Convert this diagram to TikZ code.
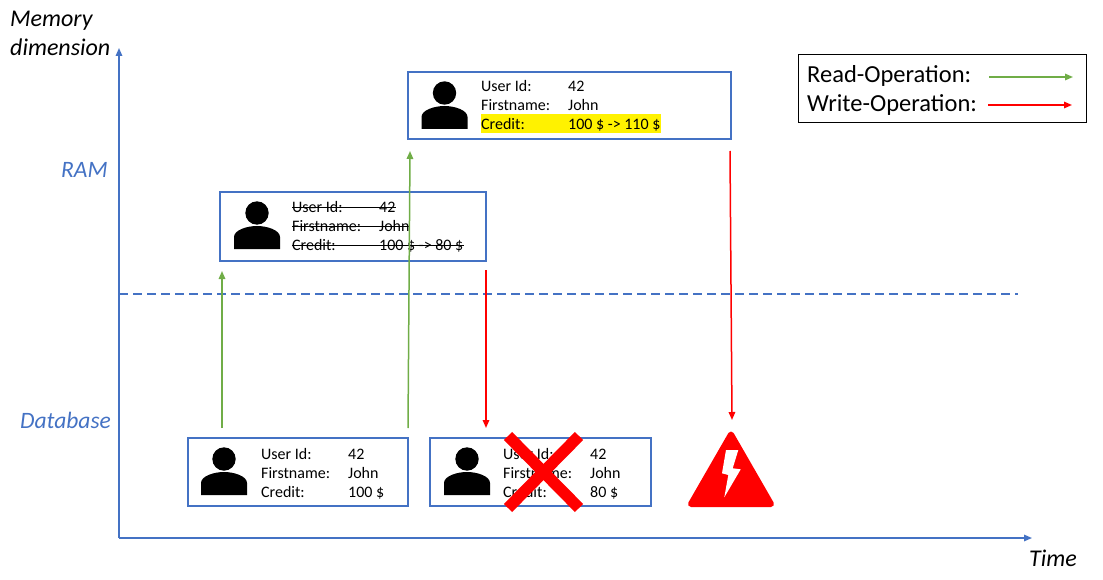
\documentclass[tikz,border=0pt]{standalone}
\usepackage{fontspec}
\setmainfont{Carlito}
\usetikzlibrary{arrows.meta}
\definecolor{axisblue}{HTML}{4472C4}
\definecolor{readgreen}{HTML}{70AD47}
\definecolor{writered}{HTML}{FF0000}
\tikzset{
    record/.style = {draw = axisblue, line width = 1.5pt, anchor = north west, inner sep = 0pt, outer sep = 0pt},
    field/.style = {anchor = base west, inner sep = 0pt, font = \fontsize{16}{16}\selectfont},
    axislabel/.style = {anchor = base west, inner sep = 0pt, text = axisblue, font = \fontsize{23.5}{24}\selectfont\itshape},
    blacklabel/.style = {anchor = base west, inner sep = 0pt, font = \fontsize{24}{24}\selectfont\itshape},
    legendtext/.style = {anchor = base west, inner sep = 0pt, font = \fontsize{24.5}{25}\selectfont},
    readop/.style = {-{Triangle[length = 8pt, width = 6.5pt]}, readgreen, line width = 1.5pt},
    writeop/.style = {-{Triangle[length = 8pt, width = 6.5pt]}, writered, line width = 1.5pt},
    person/.pic = {
        \fill (0,0) circle (11.7);
        \fill (-23,36) -- (-23,24) .. controls (-23,17) and (-10,13) .. (0,13) .. controls (10,13) and (23,17) .. (23,24) -- (23,36) -- cycle;
    }
}
\begin{document}
\begin{tikzpicture}[x = 1pt, y = -1pt]
    \useasboundingbox (0,0) rectangle (1103,580);

    % axes
    \coordinate (origin) at (119,538);
    \coordinate (memorytop) at (119,48);
    \coordinate (timeend) at (1032,538);
    \coordinate (dashstart) at (119,294);
    \coordinate (dashend) at (1018,294);
    \draw[-{Triangle[length = 8pt, width = 6.5pt]}, axisblue, line width = 1.5pt] (origin) -- (memorytop);
    \draw[-{Triangle[length = 8pt, width = 6.5pt]}, axisblue, line width = 1.5pt] (origin) -- (timeend);
    \draw[dashed, dash pattern = on 9pt off 5pt, axisblue, line width = 1.5pt] (dashstart) -- (dashend);

    \node[blacklabel] (memorylabel) at (10,27) {Memory};
    \node[blacklabel] (dimensionlabel) at (10,56) {dimension};
    \node[axislabel] (ramlabel) at (61,178) {RAM};
    \node[axislabel] (dblabel) at (20,428) {Database};
    \node[blacklabel] (timelabel) at (1029,566) {Time};

    % record in RAM, top
    \fill[yellow] (481,114) rectangle (661,133);
    \node[record, minimum width = 323pt, minimum height = 67pt] (ramtop) at (408,72) {};
    \pic at (444.5,93) {person};
    \node[field] (topid) at (481,92) {User Id:};
    \node[field] (topidval) at (568,92) {42};
    \node[field] (topname) at (481,111) {Firstname:};
    \node[field] (topnameval) at (568,111) {John};
    \node[field] (topcredit) at (481,130) {Credit:};
    \node[field] (topcreditval) at (568,130) {100 \$ -> 110 \$};

    % record in RAM, struck out
    \node[record, minimum width = 266pt, minimum height = 69pt] (rammid) at (220,192) {};
    \pic at (257,213) {person};
    \node[field] (midid) at (292,213) {User Id:};
    \node[field] (mididval) at (379,213) {42};
    \node[field] (midname) at (292,232) {Firstname:};
    \node[field] (midnameval) at (379,232) {John};
    \node[field] (midcredit) at (292,251) {Credit:};
    \node[field] (midcreditval) at (379,251) {100 \$ -> 80 \$};
    \draw[line width = 1pt] (midid.west) -- (midid.west -| mididval.east);
    \draw[line width = 1pt] (midname.west) -- (midname.west -| midnameval.east);
    \draw[line width = 1pt] (midcredit.west) -- (midcredit.west -| midcreditval.east);

    % records in the database
    \node[record, minimum width = 220pt, minimum height = 68pt] (dbfirst) at (188,438) {};
    \pic at (224,459) {person};
    \node[field] (firstid) at (261,459) {User Id:};
    \node[field] (firstidval) at (348,459) {42};
    \node[field] (firstname) at (261,478) {Firstname:};
    \node[field] (firstnameval) at (348,478) {John};
    \node[field] (firstcredit) at (261,497) {Credit:};
    \node[field] (firstcreditval) at (348,497) {100 \$};

    \node[record, minimum width = 221pt, minimum height = 68pt] (dbsecond) at (430,438) {};
    \pic at (467,459) {person};
    \node[field] (secondid) at (503,459) {User Id:};
    \node[field] (secondidval) at (590,459) {42};
    \node[field] (secondname) at (503,478) {Firstname:};
    \node[field] (secondnameval) at (590,478) {John};
    \node[field] (secondcredit) at (503,497) {Credit:};
    \node[field] (secondcreditval) at (590,497) {80 \$};

    % red cross over the second record
    \draw[writered, line width = 11.5pt] (508,436) -- (579,508);
    \draw[writered, line width = 11.5pt] (579,436) -- (508,508);

    % warning sign
    \filldraw[writered, line width = 6pt, line join = round] (731,434.5) -- (771,504) -- (691,504) -- cycle;
    \fill[white] (726,450) -- (738.3,450) -- (732.7,468.3) -- (740.7,469.3) -- (724.3,497.3) -- (728.3,475) -- (722,473.3) -- cycle;

    % operations
    \coordinate (readonestart) at (222,428);
    \coordinate (readoneend) at (222,271);
    \coordinate (readtwostart) at (408,428);
    \coordinate (readtwoend) at (410,151);
    \coordinate (writeonestart) at (486,270);
    \coordinate (writeoneend) at (486,428);
    \coordinate (writetwostart) at (730,151);
    \coordinate (writetwoend) at (732,420);
    \draw[readop] (readonestart) -- (readoneend);
    \draw[readop] (readtwostart) -- (readtwoend);
    \draw[writeop] (writeonestart) -- (writeoneend);
    \draw[writeop] (writetwostart) -- (writetwoend);

    % legend
    \node[draw, line width = 1pt, anchor = north west, inner sep = 0pt, outer sep = 0pt, minimum width = 288pt, minimum height = 68pt] (legend) at (798,55) {};
    \node[legendtext] (readlabel) at (807,83) {Read-Operation:};
    \node[legendtext] (writelabel) at (807,112) {Write-Operation:};
    \coordinate (legendreadstart) at (989,77);
    \coordinate (legendreadend) at (1073,77);
    \coordinate (legendwritestart) at (988,105);
    \coordinate (legendwriteend) at (1072,105);
    \draw[readop] (legendreadstart) -- (legendreadend);
    \draw[writeop] (legendwritestart) -- (legendwriteend);
\end{tikzpicture}
\end{document}
